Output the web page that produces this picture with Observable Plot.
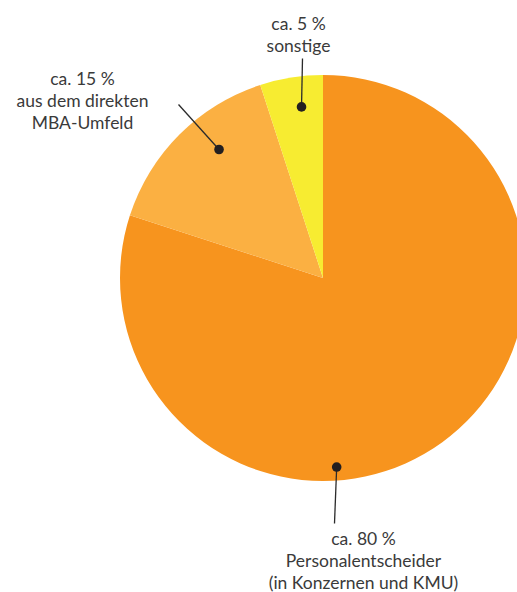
<!DOCTYPE html>
<html>
<head>
<meta charset="utf-8">
<script src="https://cdn.jsdelivr.net/npm/d3@7"></script>
<script src="https://cdn.jsdelivr.net/npm/@observablehq/plot@0.6"></script>
<style>
  html, body { margin: 0; padding: 0; background: #fff; }
  svg { display: block; }
</style>
</head>
<body>
<div id="chart"></div>
<script>
// Data
const categories = ["Personalentscheider", "aus dem direkten MBA-Umfeld", "sonstige"];
const shares = [80, 15, 5];
const labelLines = [
  ["ca. 80 %", "Personalentscheider", "(in Konzernen und KMU)"],
  ["ca. 15 %", "aus dem direkten", "MBA-Umfeld"],
  ["ca. 5 %", "sonstige"]
];
const colors = ["#F7941E", "#FBB042", "#F7EC31"];

// Layout (pixel space)
const W = 517, H = 592;
const center = {x: 323, y: 278};
const radius = 203;
// dot positions (angle in degrees clockwise from top, distance from center)
const dotPolar = [[176, 189], [-39, 166], [-7.3, 173]];
const lineEnd = [[334, 523], [178, 104], [302, 58]];
const labelPos = [[363, 544], [82, 84], [298, 29]];
const lineGap = 22;

const slices = shares.map((v, i) => ({category: categories[i], value: v, color: colors[i]}));
const arcs = d3.pie().sort(null).value(d => d.value)(slices);

const dots = dotPolar.map(([a, r], i) => {
  const t = a * Math.PI / 180;
  return {i, x: center.x + r * Math.sin(t), y: center.y - r * Math.cos(t), x2: lineEnd[i][0], y2: lineEnd[i][1]};
});
const texts = [];
labelLines.forEach((lines, i) => {
  lines.forEach((t, j) => texts.push({text: t, x: labelPos[i][0], y: labelPos[i][1] + j * lineGap}));
});

const pieMark = (index, scales) => {
  const g = d3.create("svg:g");
  const cx = scales.x(center.x), cy = scales.y(center.y);
  const arcGen = d3.arc().innerRadius(0).outerRadius(radius);
  g.selectAll("path").data(arcs).join("path")
    .attr("transform", `translate(${cx},${cy})`)
    .attr("d", arcGen)
    .attr("fill", d => d.data.color);
  return g.node();
};

const chart = Plot.plot({
  width: W, height: H,
  margin: 0,
  x: {domain: [0, W], range: [0, W], axis: null},
  y: {domain: [0, H], range: [0, H], axis: null},
  style: {fontFamily: "Lato, 'Open Sans', sans-serif", background: "#fff"},
  marks: [
    pieMark,
    Plot.link(dots, {x1: "x", y1: "y", x2: "x2", y2: "y2", stroke: "#2b2b2b", strokeWidth: 1.3}),
    Plot.dot(dots, {x: "x", y: "y", r: 4.8, fill: "#231f20", stroke: "none"}),
    Plot.text(texts, {x: "x", y: "y", text: "text", fill: "#3a3a3a", fontSize: 17.5, textAnchor: "middle", lineAnchor: "bottom"})
  ]
});
document.getElementById("chart").appendChild(chart);
</script>
</body>
</html>
